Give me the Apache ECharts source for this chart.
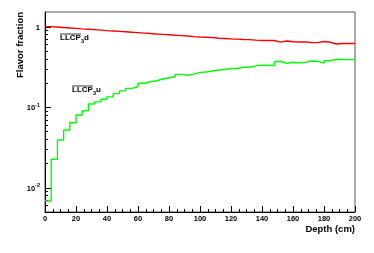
<!DOCTYPE html>
<html>
<head>
<meta charset="utf-8">
<script src="https://cdn.jsdelivr.net/npm/echarts@6/dist/echarts.min.js"></script>
<style>html,body{margin:0;padding:0;background:#fff}#c{width:374px;height:253px}</style>
</head>
<body>
<div id="c"></div>
<script>
// Lower edges of the 4 cm depth bins (cm)
var binLowEdges = [0,4,8,12,16,20,24,28,32,36,40,44,48,52,56,60,64,68,72,76,80,84,88,92,96,100,104,108,112,116,120,124,128,132,136,140,144,148,152,156,160,164,168,172,176,180,184,188,192,196];
var binUpperLimit = 200;
// LLCP3 d fraction (red)
var fracD = [1.006,0.994,0.980,0.969,0.958,0.944,0.934,0.923,0.912,0.899,0.889,0.879,0.869,0.857,0.847,0.837,0.826,0.816,0.807,0.798,0.787,0.778,0.769,0.757,0.749,0.743,0.738,0.722,0.718,0.708,0.703,0.697,0.693,0.684,0.678,0.678,0.676,0.645,0.668,0.653,0.649,0.651,0.640,0.636,0.658,0.643,0.613,0.620,0.620,0.620];
// LLCP3 u fraction (green)
var fracU = [0.00684,0.0226,0.0392,0.0522,0.0643,0.0802,0.0907,0.110,0.117,0.126,0.135,0.148,0.160,0.172,0.180,0.199,0.208,0.214,0.225,0.233,0.240,0.257,0.250,0.259,0.272,0.275,0.283,0.291,0.295,0.304,0.304,0.315,0.315,0.327,0.334,0.334,0.330,0.371,0.353,0.363,0.356,0.364,0.377,0.373,0.356,0.379,0.395,0.392,0.392,0.392];
// Axis ticks
var xMajorTicks = [0,20,40,60,80,100,120,140,160,180,200];
var yLabelTicks = [0.01,0.1,1];
var yMinorTicks = [0.005,0.006,0.007,0.008,0.009,0.02,0.03,0.04,0.05,0.06,0.07,0.08,0.09,0.2,0.3,0.4,0.5,0.6,0.7,0.8,0.9];
var yMin = 0.005, yMax = 1.53;

function histData(vals){
  var d = binLowEdges.map(function(e,i){return [e, vals[i]];});
  d.push([binUpperLimit, vals[vals.length-1]]);
  return d;
}
var FONT = 'Liberation Sans, Arial, sans-serif';
var chart = echarts.init(document.getElementById('c'), null, {renderer:'canvas'});
var yAxisBase = {type:'log', logBase:10, min:yMin, max:yMax, splitLine:{show:false}};
chart.setOption({
  animation:false,
  backgroundColor:'#fff',
  grid:{left:45, right:19, top:12, bottom:41, show:true, borderColor:'#555', borderWidth:1, backgroundColor:'transparent'},
  xAxis:[{
    type:'value', min:0, max:200, interval:20,
    axisLine:{show:true, lineStyle:{color:'#000', width:1}},
    axisTick:{show:true, inside:true, length:6, lineStyle:{color:'#000'}},
    minorTick:{show:true, splitNumber:4, length:3, lineStyle:{color:'#000'}},
    splitLine:{show:false},
    axisLabel:{margin:3, fontFamily:FONT, fontWeight:'bold', fontSize:7.5, color:'#000'}
  }],
  yAxis:[
    Object.assign({}, yAxisBase, {
      axisLine:{show:true, lineStyle:{color:'#000', width:1}},
      axisTick:{show:true, inside:true, length:3, customValues:yMinorTicks, lineStyle:{color:'#000'}},
      axisLabel:{show:true, customValues:yLabelTicks, margin:5, color:'#000',
        formatter:function(v){
          var e = Math.round(Math.log10(v));
          if (e === 0) return '{b|1}';
          return '{b|10}{s|' + e + '}';
        },
        rich:{
          b:{fontFamily:FONT, fontWeight:'bold', fontSize:7.5, color:'#000', lineHeight:10, verticalAlign:'bottom'},
          s:{fontFamily:FONT, fontWeight:'bold', fontSize:5.5, color:'#000', lineHeight:10, verticalAlign:'top', padding:[0,0,4,0]}
        }
      }
    }),
    Object.assign({}, yAxisBase, {
      position:'left',
      axisLine:{show:false},
      axisTick:{show:true, inside:true, length:6, customValues:yLabelTicks, lineStyle:{color:'#000'}},
      axisLabel:{show:false}
    })
  ],
  series:[
    {type:'line', name:'LLCP3d', step:'end', data:histData(fracD), xAxisIndex:0, yAxisIndex:0,
     showSymbol:false, symbol:'none', lineStyle:{color:'#ff0000', width:1.4}, z:5},
    {type:'line', name:'LLCP3u', step:'end', data:histData(fracU), xAxisIndex:0, yAxisIndex:0,
     showSymbol:false, symbol:'none', lineStyle:{color:'#00ff00', width:1.4}, z:5}
  ],
  graphic:[
    {type:'text', x:20, y:12, rotation:Math.PI/2,
     style:{text:'Flavor fraction', fontFamily:FONT, fontWeight:'bold', fontSize:9.5, fill:'#000', align:'right', verticalAlign:'middle'}},
    {type:'text', x:355, y:229,
     style:{text:'Depth (cm)', fontFamily:FONT, fontWeight:'bold', fontSize:9.5, fill:'#000', align:'right', verticalAlign:'middle'}},
    {type:'group', x:60, y:39, children:[
      {type:'text', x:0, y:0, style:{
        text:'{n|LLCP}{s|3}{n|d}', verticalAlign:'middle', align:'left',
        rich:{
          n:{fontFamily:FONT, fontWeight:'bold', fontSize:8, fill:'#000', lineHeight:10, verticalAlign:'top'},
          s:{fontFamily:FONT, fontWeight:'bold', fontSize:5.5, fill:'#000', lineHeight:10, verticalAlign:'bottom', padding:[3,0,0,0]}
        }}},
      {type:'line', shape:{x1:0, y1:-5, x2:21, y2:-5}, style:{stroke:'#000', lineWidth:0.8}}
    ]},
    {type:'group', x:72, y:91, children:[
      {type:'text', x:0, y:0, style:{
        text:'{n|LLCP}{s|3}{n|u}', verticalAlign:'middle', align:'left',
        rich:{
          n:{fontFamily:FONT, fontWeight:'bold', fontSize:8, fill:'#000', lineHeight:10, verticalAlign:'top'},
          s:{fontFamily:FONT, fontWeight:'bold', fontSize:5.5, fill:'#000', lineHeight:10, verticalAlign:'bottom', padding:[3,0,0,0]}
        }}},
      {type:'line', shape:{x1:0, y1:-5, x2:21, y2:-5}, style:{stroke:'#000', lineWidth:0.8}}
    ]}
  ]
});
</script>
</body>
</html>
